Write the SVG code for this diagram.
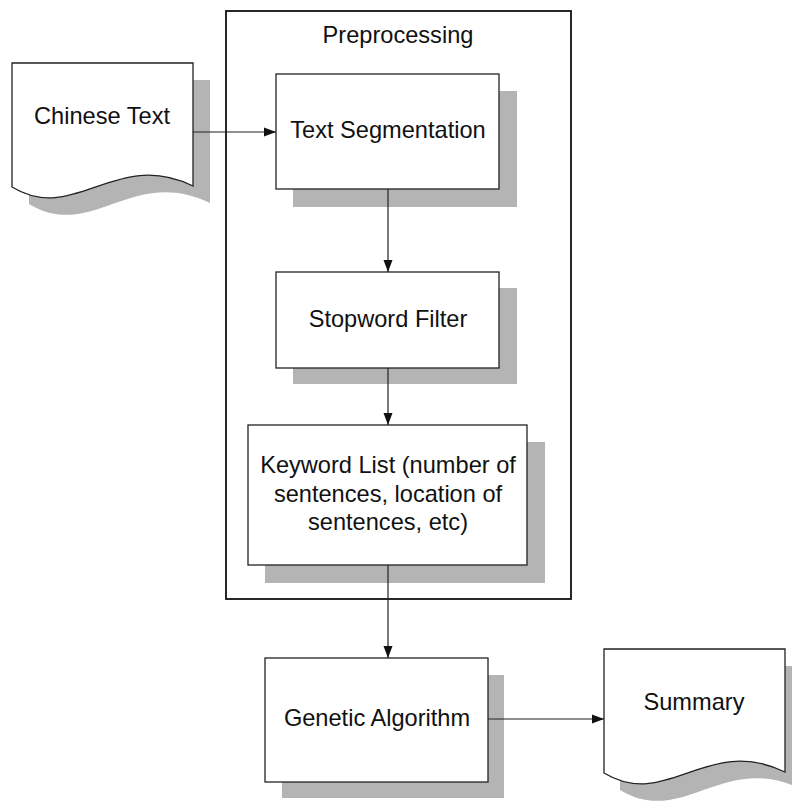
<svg xmlns="http://www.w3.org/2000/svg" width="792" height="803" viewBox="0 0 792 803">
<style>
.box{fill:#fff;stroke:#222;stroke-width:1.3}
.shadow{fill:#b4b4b4;stroke:none}
.frame{fill:#fff;stroke:#111;stroke-width:1.8}
.lbl{font-family:"Liberation Sans",Arial,sans-serif;font-size:23.6px;fill:#111;text-anchor:middle}
.conn{fill:none;stroke:#222;stroke-width:1.2}
</style>
<defs>
<marker id="arr" markerUnits="userSpaceOnUse" markerWidth="12" markerHeight="10" refX="12" refY="5" orient="auto">
<path d="M0,0.5 L12,5 L0,9.5 Z" fill="#111"/>
</marker>
<path id="doc" d="M0,0 H181 V123 C103,85 63,162 0,124 Z"/>
</defs>
<rect width="792" height="803" fill="#fff"/>

<g id="preprocessing">
<rect class="frame" x="226" y="11" width="345" height="588"/>
<text class="lbl" x="398" y="43">Preprocessing</text>
</g>

<g id="chinese-text">
<use href="#doc" class="shadow" x="29" y="80"/>
<use href="#doc" class="box" x="12" y="63"/>
<text class="lbl" x="102" y="124">Chinese Text</text>
</g>

<g id="text-segmentation">
<rect class="shadow" x="293" y="91" width="224" height="116"/>
<rect class="box" x="276" y="74" width="223" height="115"/>
<text class="lbl" x="388" y="138">Text Segmentation</text>
</g>

<g id="stopword-filter">
<rect class="shadow" x="293" y="288" width="224" height="96"/>
<rect class="box" x="276" y="272" width="223" height="96"/>
<text class="lbl" x="388" y="327">Stopword Filter</text>
</g>

<g id="keyword-list">
<rect class="shadow" x="265" y="442" width="280" height="141"/>
<rect class="box" x="248" y="425" width="279" height="140"/>
<text class="lbl" x="388" y="473">Keyword List (number of</text>
<text class="lbl" x="388" y="502">sentences, location of</text>
<text class="lbl" x="388" y="530">sentences, etc)</text>
</g>

<g id="genetic-algorithm">
<rect class="shadow" x="282" y="675" width="222" height="123"/>
<rect class="box" x="265" y="658" width="223" height="124"/>
<text class="lbl" x="377" y="726">Genetic Algorithm</text>
</g>

<g id="summary">
<use href="#doc" class="shadow" x="620" y="666"/>
<use href="#doc" class="box" x="604" y="649"/>
<text class="lbl" x="694" y="710">Summary</text>
</g>

<g id="connectors">
<line class="conn" x1="193" y1="132" x2="276" y2="132" marker-end="url(#arr)"/>
<line class="conn" x1="388" y1="189" x2="388" y2="272" marker-end="url(#arr)"/>
<line class="conn" x1="388" y1="368" x2="388" y2="425" marker-end="url(#arr)"/>
<line class="conn" x1="388" y1="565" x2="388" y2="658" marker-end="url(#arr)"/>
<line class="conn" x1="488" y1="719" x2="604" y2="719" marker-end="url(#arr)"/>
</g>
</svg>
